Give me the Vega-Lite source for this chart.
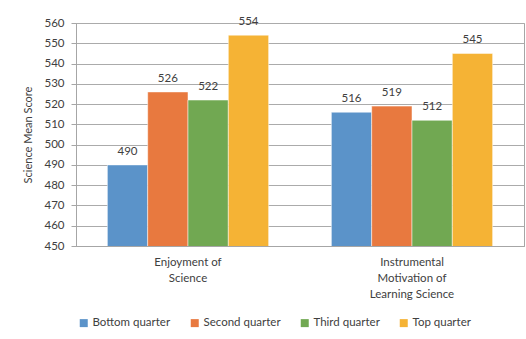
{
  "$schema": "https://vega.github.io/schema/vega-lite/v6.json",
  "width": 448,
  "height": 223,
  "autosize": "none",
  "padding": {"left": 76, "top": 23, "right": 2, "bottom": 93},
  "background": "white",
  "config": {
    "font": "Lato",
    "view": {"stroke": "#A6A6A6", "strokeWidth": 1},
    "axis": {"labelColor": "#404040", "titleColor": "#404040", "labelFontSize": 11.5, "titleFontSize": 11, "titleFontWeight": "normal", "domainColor": "#A6A6A6", "tickColor": "#A6A6A6", "gridColor": "#ABABAB"}
  },
  "data": {
    "values": [
      {"category": "Enjoyment of Science", "group": "Bottom quarter", "score": 490},
      {"category": "Enjoyment of Science", "group": "Second quarter", "score": 526},
      {"category": "Enjoyment of Science", "group": "Third quarter", "score": 522},
      {"category": "Enjoyment of Science", "group": "Top quarter", "score": 554},
      {"category": "Instrumental Motivation of Learning Science", "group": "Bottom quarter", "score": 516},
      {"category": "Instrumental Motivation of Learning Science", "group": "Second quarter", "score": 519},
      {"category": "Instrumental Motivation of Learning Science", "group": "Third quarter", "score": 512},
      {"category": "Instrumental Motivation of Learning Science", "group": "Top quarter", "score": 545}
    ]
  },
  "encoding": {
    "x": {
      "field": "category", "type": "nominal",
      "scale": {"paddingInner": 0.28, "paddingOuter": 0.14},
      "axis": {
        "title": null, "labelAngle": 0, "ticks": false,
        "labelPadding": 10, "labelLineHeight": 16, "labelBaseline": "top", "labelAlign": "center",
        "labelExpr": "datum.value == 'Enjoyment of Science' ? ['Enjoyment of', 'Science'] : ['Instrumental', 'Motivation of', 'Learning Science']"
      }
    },
    "xOffset": {"field": "group", "type": "nominal", "sort": ["Bottom quarter", "Second quarter", "Third quarter", "Top quarter"], "scale": {"paddingInner": 0, "paddingOuter": 0}},
    "y": {
      "field": "score", "type": "quantitative",
      "scale": {"domain": [450, 560], "zero": false, "nice": false},
      "axis": {"title": "Science Mean Score", "values": [450, 460, 470, 480, 490, 500, 510, 520, 530, 540, 550, 560], "tickSize": 5, "labelPadding": 7, "titlePadding": 10, "domain": true}
    }
  },
  "layer": [
    {
      "mark": {"type": "bar", "stroke": "white", "strokeWidth": 0.5, "clip": true},
      "encoding": {
        "color": {
          "field": "group", "type": "nominal",
          "scale": {"domain": ["Bottom quarter", "Second quarter", "Third quarter", "Top quarter"], "range": ["#5B93C9", "#E8793F", "#71A852", "#F5B335"]},
          "legend": {
            "title": null, "orient": "none", "direction": "horizontal", "legendX": 2, "legendY": 294,
            "symbolType": "square", "symbolSize": 64, "symbolStrokeWidth": 0,
            "labelFontSize": 11.5, "labelColor": "#404040", "columnPadding": 18, "labelOffset": 3
          }
        }
      }
    },
    {
      "mark": {"type": "text", "baseline": "bottom", "dy": -8, "fontSize": 11.5, "color": "#404040"},
      "encoding": {"text": {"field": "score", "type": "quantitative"}}
    }
  ]
}
